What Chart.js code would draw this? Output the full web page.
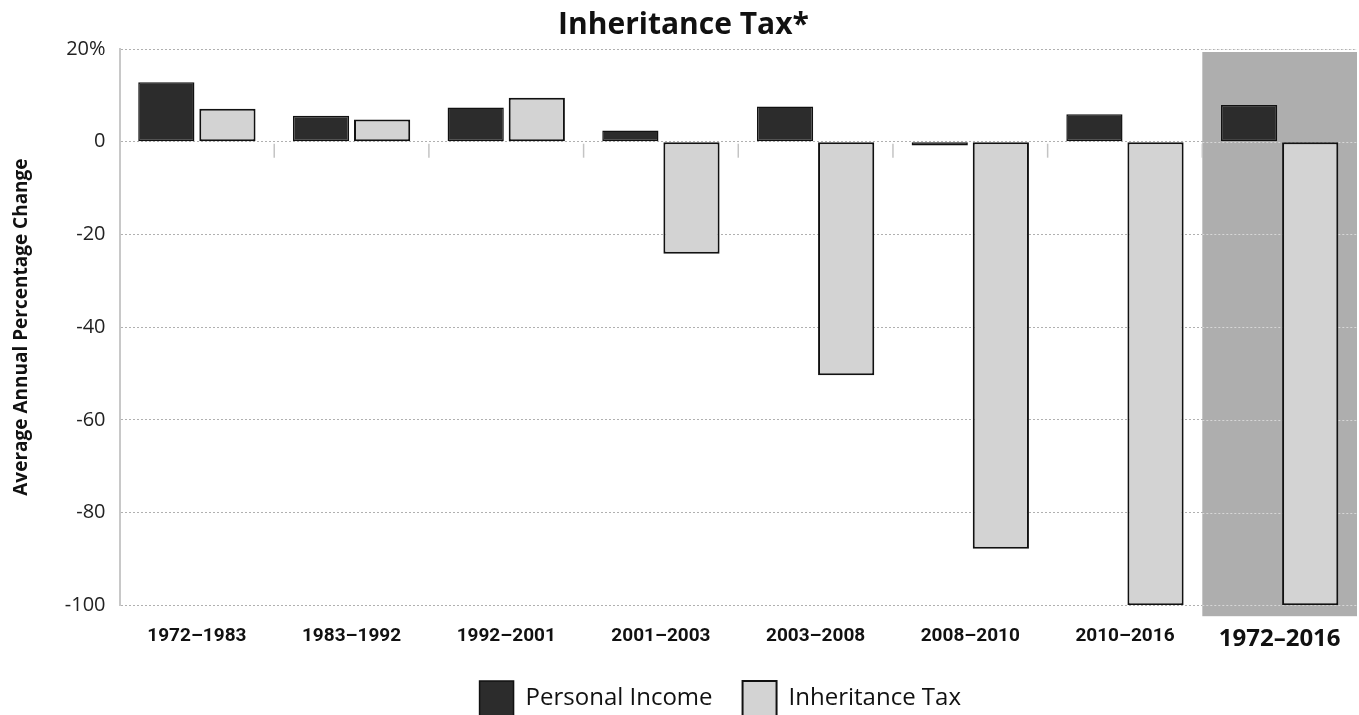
<!DOCTYPE html>
<html>
<head>
<meta charset="utf-8">
<script src="https://cdn.jsdelivr.net/npm/chart.js@4"></script>
<style>
  html, body { margin: 0; padding: 0; background: #fff; }
  #wrap { width: 1359px; height: 715px; }
</style>
</head>
<body>
<div id="wrap"><canvas id="chart"></canvas></div>
<script>
// --- DATA ---
const periods = ["1972–1983", "1983–1992", "1992–2001", "2001–2003", "2003–2008", "2008–2010", "2010–2016", "1972–2016"];
const personalIncome = [12.8, 5.6, 7.4, 2.4, 7.6, -0.8, 5.9, 7.9];
const inheritanceTax = [7.1, 4.8, 9.5, -24.2, -50.4, -87.8, -100, -100];
const yTicks = [20, 0, -20, -40, -60, -80, -100];

// shade behind the summary column + little tick marks at the zero line
const decorPlugin = {
    id: "decor",
    afterLayout(chart) {
        // nudge the legend up/left a bit, like the printed version
        const lg = chart.legend;
        lg.top -= 15; lg.bottom -= 15;
        lg.left -= 18; lg.right -= 18;
    },
    beforeDatasetsDraw(chart) {
        const { ctx, chartArea, scales } = chart;
        const x = scales.x, y = scales.y;
        const last = periods.length - 1;
        const left = (x.getPixelForValue(last - 1) + x.getPixelForValue(last)) / 2;
        ctx.save();
        ctx.fillStyle = "#aeaeae";
        ctx.fillRect(left, chartArea.top + 3, chartArea.right - left, chartArea.bottom - chartArea.top + 8);

        // lighter grid lines through the shade
        ctx.strokeStyle = "rgba(225,225,225,0.8)";
        ctx.lineWidth = 1;
        ctx.setLineDash([2, 2]);
        yTicks.forEach(v => {
            const py = Math.round(y.getPixelForValue(v)) + 0.5;
            ctx.beginPath();
            ctx.moveTo(left, py);
            ctx.lineTo(chartArea.right, py);
            ctx.stroke();
        });
        ctx.setLineDash([]);

        // boundary ticks below the zero line
        const y0 = y.getPixelForValue(0);
        ctx.strokeStyle = "#c4c4c4";
        ctx.lineWidth = 1.5;
        for (let i = 0; i < last; i++) {
            const bx = (x.getPixelForValue(i) + x.getPixelForValue(i + 1)) / 2;
            ctx.beginPath();
            ctx.moveTo(bx, y0 + 2);
            ctx.lineTo(bx, y0 + 16);
            ctx.stroke();
        }
        ctx.restore();
    }
};

new Chart(document.getElementById("chart"), {
    type: "bar",
    data: {
        labels: periods,
        datasets: [
            {
                label: "Personal Income",
                data: personalIncome,
                backgroundColor: "#2c2c2c",
                borderColor: "#111",
                borderWidth: 1.5,
                borderSkipped: false
            },
            {
                label: "Inheritance Tax",
                data: inheritanceTax,
                backgroundColor: "#d3d3d3",
                borderColor: "#111",
                borderWidth: 2,
                borderSkipped: false
            }
        ]
    },
    options: {
        responsive: true,
        maintainAspectRatio: false,
        animation: false,
        layout: { padding: { left: 10, right: 2, top: 7, bottom: -26 } },
        datasets: {
            bar: { categoryPercentage: 0.79, barPercentage: 0.92 }
        },
        plugins: {
            title: {
                display: true,
                text: "Inheritance Tax*",
                color: "#111",
                font: { family: "Open Sans", size: 30, weight: "bold" },
                padding: { top: 0, bottom: 6 }
            },
            legend: {
                position: "bottom",
                fullSize: false,
                labels: {
                    color: "#111",
                    font: { family: "Open Sans", size: 24 },
                    boxWidth: 34,
                    boxHeight: 35,
                    padding: 30
                }
            },
            tooltip: { enabled: false }
        },
        scales: {
            x: {
                offset: true,
                grid: { display: false },
                border: { display: false },
                ticks: {
                    color: "#111",
                    padding: 12,
                    font: (ctx) => ctx.index === periods.length - 1
                        ? { family: "Open Sans", size: 24, weight: "bold" }
                        : { family: "Roboto", size: 19, weight: "bold" }
                }
            },
            y: {
                min: -100,
                max: 20,
                afterBuildTicks: (axis) => { axis.ticks = yTicks.map(v => ({ value: v })); },
                grid: {
                    color: "#b0b0b0",
                    lineWidth: 1,
                    drawTicks: false
                },
                border: { display: true, color: "#c8c8c8", width: 2, dash: [2, 2] },
                ticks: {
                    color: "#222",
                    padding: 14,
                    font: { family: "Open Sans", size: 20 },
                    callback: (v) => v === 20 ? "20%" : String(v)
                },
                title: {
                    display: true,
                    text: "Average Annual Percentage Change",
                    color: "#111",
                    font: { family: "Open Sans", size: 19, weight: "bold" },
                    padding: { top: 0, bottom: 18 }
                }
            }
        }
    },
    plugins: [decorPlugin]
});
</script>
</body>
</html>
